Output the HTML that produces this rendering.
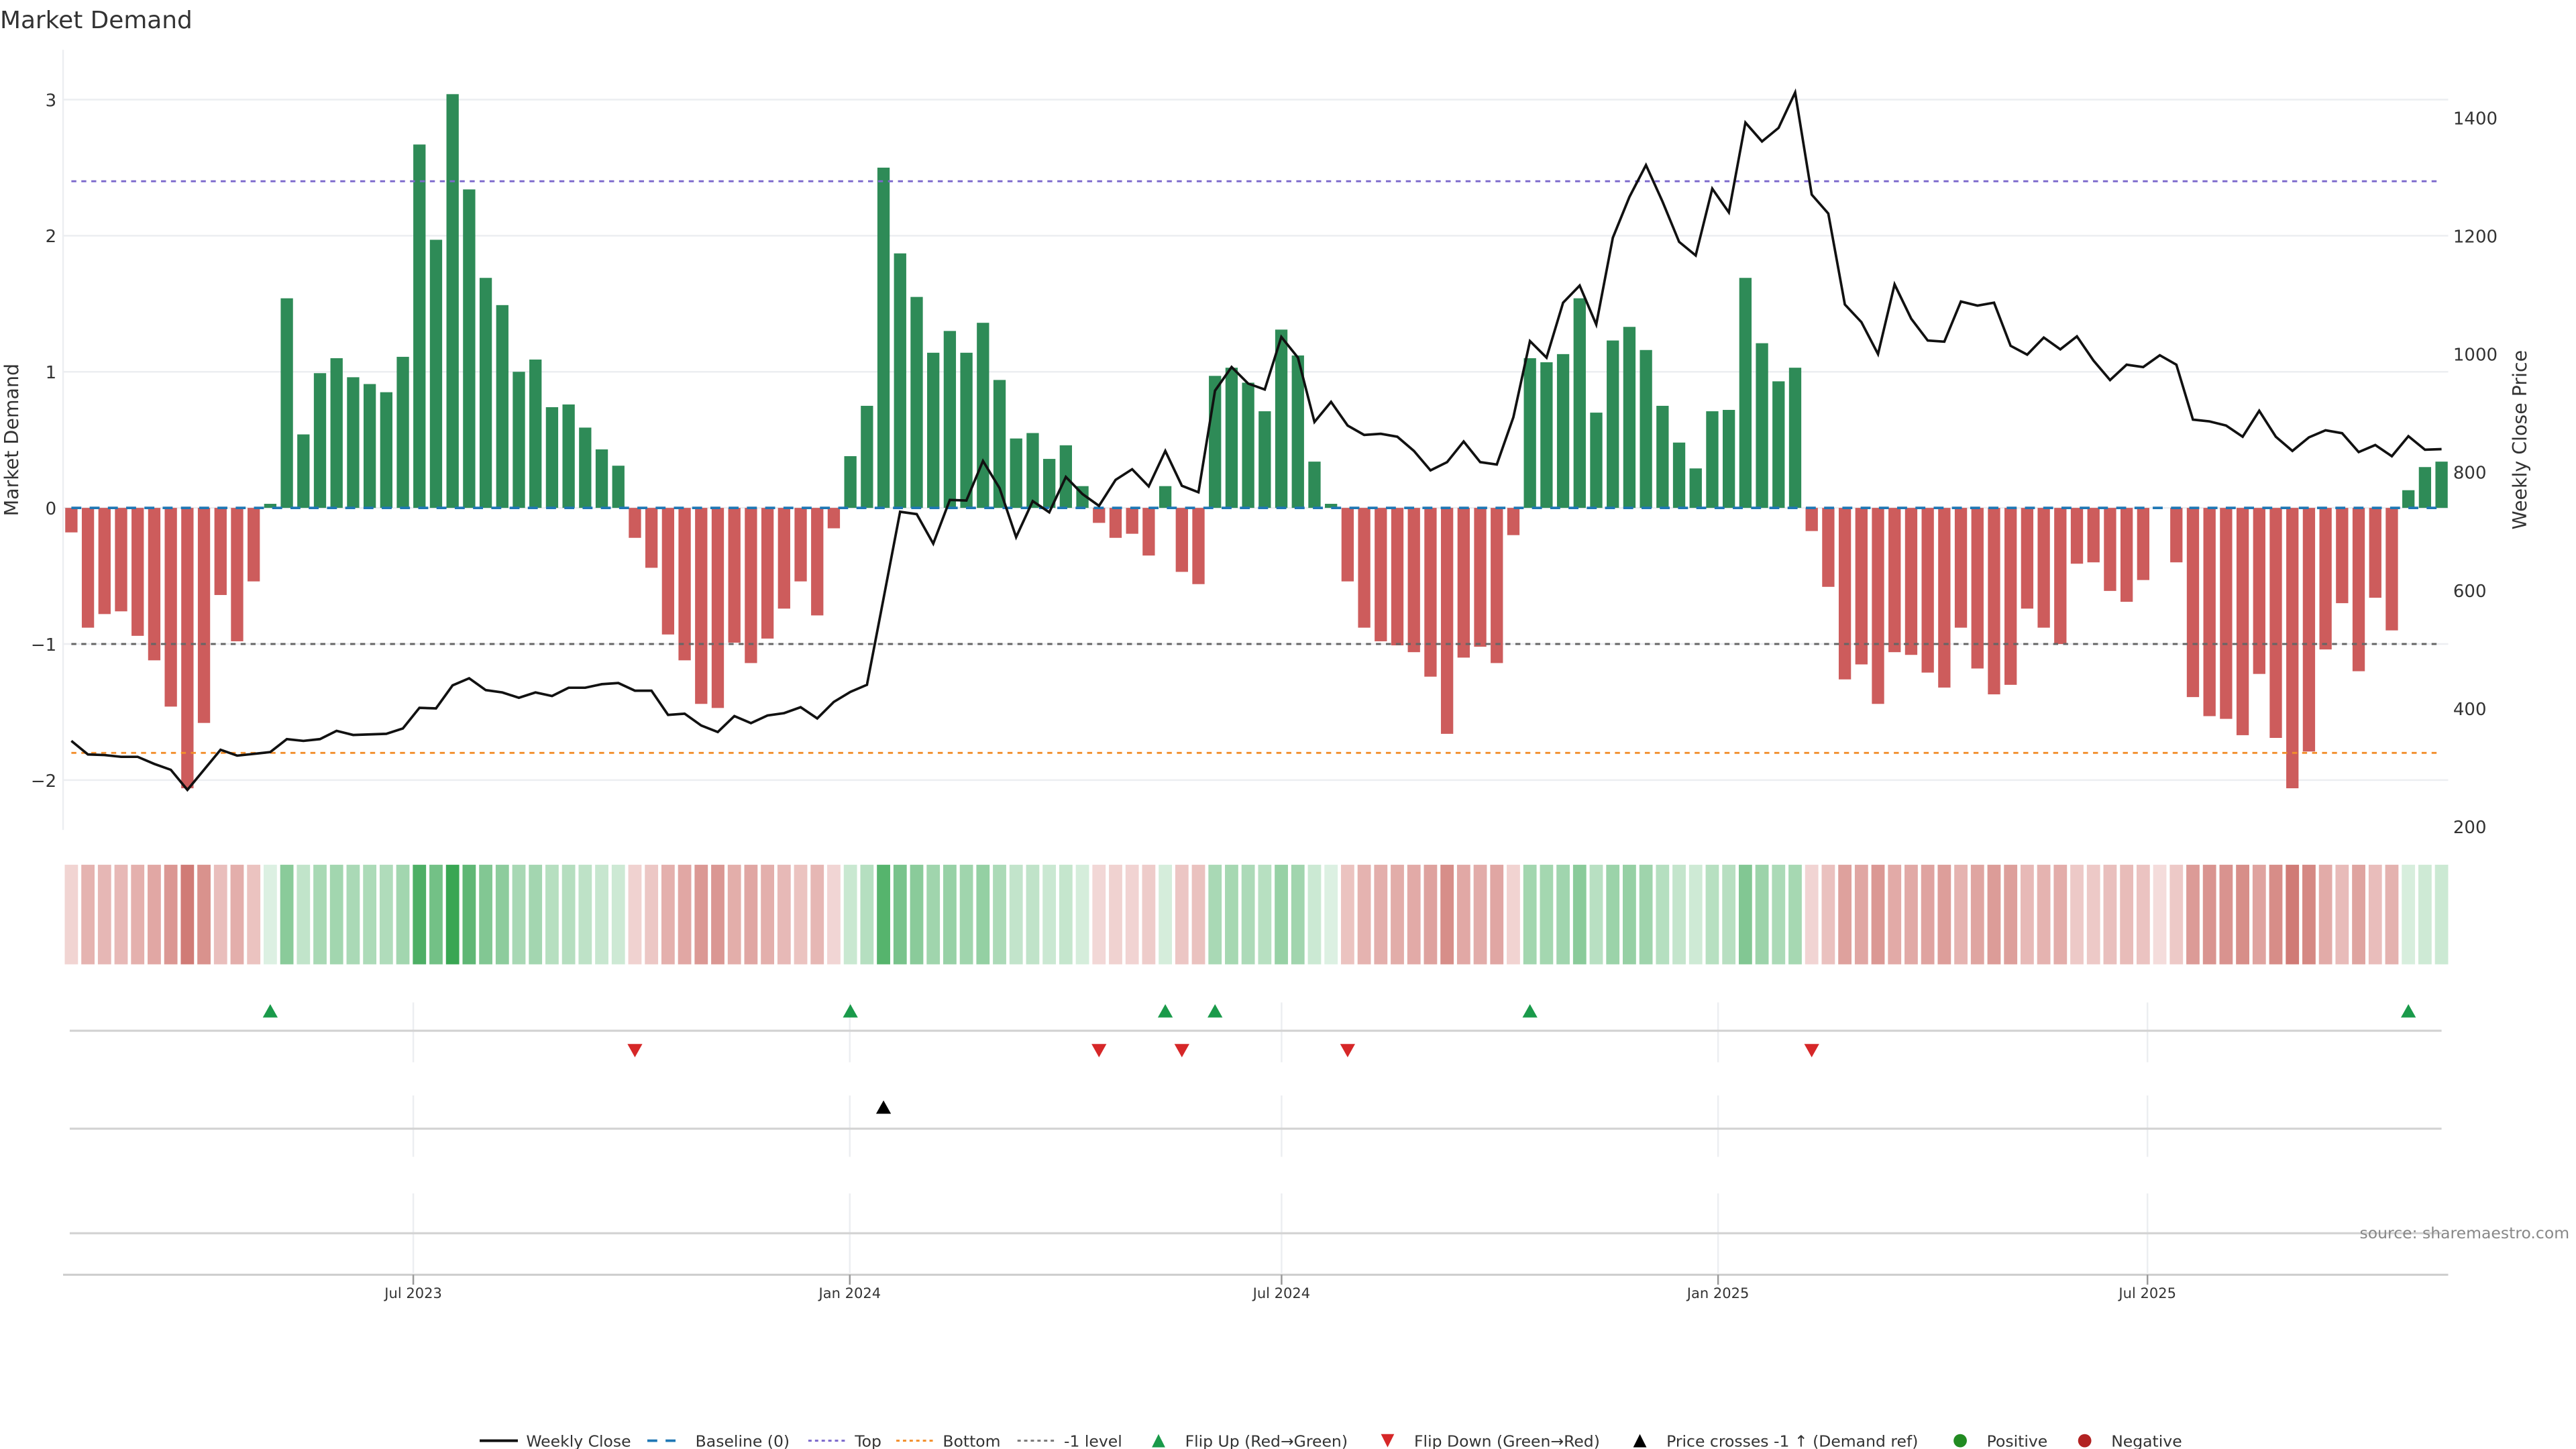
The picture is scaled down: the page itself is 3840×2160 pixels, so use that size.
<!DOCTYPE html>
<html><head><meta charset="utf-8"><title>Market Demand</title>
<style>
html,body{margin:0;padding:0;background:#fff;}
svg{display:block;font-family:"DejaVu Sans","Liberation Sans",sans-serif;}
</style></head>
<body>
<svg id="chart" width="3840" height="2160" viewBox="0 0 1552 873" xmlns="http://www.w3.org/2000/svg">
<rect x="0" y="0" width="1552" height="873" fill="#fff"/>
<text x="0" y="17" font-size="14.5" fill="#333">Market Demand</text>
<g id="grid"></g>
<g id="refs"></g>
<g id="bars"></g>
<g id="priceg"></g>
<g id="axes"></g>
<g id="heat"></g>
<g id="panels"></g>
<g id="legend"></g>
</svg>
<script>
const demand = [-0.18,-0.88,-0.78,-0.76,-0.94,-1.12,-1.46,-2.06,-1.58,-0.64,-0.98,-0.54,0.03,1.54,0.54,0.99,1.10,0.96,0.91,0.85,1.11,2.67,1.97,3.04,2.34,1.69,1.49,1.00,1.09,0.74,0.76,0.59,0.43,0.31,-0.22,-0.44,-0.93,-1.12,-1.44,-1.47,-0.99,-1.14,-0.96,-0.74,-0.54,-0.79,-0.15,0.38,0.75,2.50,1.87,1.55,1.14,1.30,1.14,1.36,0.94,0.51,0.55,0.36,0.46,0.16,-0.11,-0.22,-0.19,-0.35,0.16,-0.47,-0.56,0.97,1.03,0.92,0.71,1.31,1.12,0.34,0.03,-0.54,-0.88,-0.98,-1.01,-1.06,-1.24,-1.66,-1.10,-1.02,-1.14,-0.20,1.10,1.07,1.13,1.54,0.70,1.23,1.33,1.16,0.75,0.48,0.29,0.71,0.72,1.69,1.21,0.93,1.03,-0.17,-0.58,-1.26,-1.15,-1.44,-1.06,-1.08,-1.21,-1.32,-0.88,-1.18,-1.37,-1.30,-0.74,-0.88,-1.00,-0.41,-0.40,-0.61,-0.69,-0.53,0,-0.40,-1.39,-1.53,-1.55,-1.67,-1.22,-1.69,-2.06,-1.79,-1.04,-0.70,-1.20,-0.66,-0.90,0.13,0.30,0.34];
const price = [345,322,321,318,318,306,296,262,296,330,320,323,326,348,345,348,362,355,356,357,366,401,400,439,451,431,427,418,427,421,435,435,441,443,430,430,389,391,371,360,387,375,388,392,402,383,411,428,440,586,733,729,679,753,752,819,773,690,751,732,792,763,743,787,805,776,836,777,766,938,978,950,940,1029,994,885,919,879,863,865,860,836,803,817,852,817,813,893,1022,994,1087,1116,1050,1197,1266,1320,1258,1190,1167,1280,1240,1392,1360,1383,1443,1270,1238,1084,1054,1000,1118,1060,1023,1021,1089,1082,1087,1014,999,1028,1008,1030,989,956,982,978,998,982,889,886,879,860,904,860,836,859,871,866,834,846,827,861,838,839];
const crossIdx = [49];
const leftTicks = [-2,-1,0,1,2,3];
const leftTickLabels = ["−2","−1","0","1","2","3"];
const rightTicks = [200,400,600,800,1000,1200,1400];
const dateTicks = ["2023-07-01","2024-01-01","2024-07-01","2025-01-01","2025-07-01"];
const dateTickLabels = ["Jul 2023","Jan 2024","Jul 2024","Jan 2025","Jul 2025"];
const refLevels = [2.4,-1.8,-1];

const NS="http://www.w3.org/2000/svg";
function mk(tag,attrs,parent,txt){const e=document.createElementNS(NS,tag);for(const k in attrs)e.setAttribute(k,attrs[k]);if(txt!==undefined)e.textContent=txt;parent.appendChild(e);return e;}
const X0=43,X1=1471;
function xb(i){return X0+i*(X1-X0)/(demand.length-1);}
function yd(v){return 306-v*82;}
function yp(p){return 71+(1400-p)*0.3558;}
function xdate(s){const d=(Date.parse(s)-Date.parse("2023-07-01"))/86400000;return 249+d*1.4293;}

const grid=document.getElementById('grid');
leftTicks.forEach((t,k)=>{
  const l=mk('line',{x1:38,x2:1475,y1:yd(t),y2:yd(t),stroke:'#eceef1','stroke-width':1},grid);
  
  
  const tx=mk('text',{x:34,y:yd(t)+4,'font-size':10.5,fill:'#333','text-anchor':'end'},grid,leftTickLabels[k]);
  
  
});
rightTicks.forEach(t=>{
  const tx=mk('text',{x:1478,y:yp(t)+4,'font-size':10.5,fill:'#333'},grid,String(t));
  
  
});
const ax=mk('line',{x1:38,x2:38,y1:30,y2:500,stroke:'#eceef1','stroke-width':1},grid);


const yt=mk('text',{x:0,y:0,'font-size':11.5,fill:'#333','text-anchor':'middle',transform:'translate(11,265) rotate(-90)'},grid,'Market Demand');


const yt2=mk('text',{x:0,y:0,'font-size':11.5,fill:'#333','text-anchor':'middle',transform:'translate(1522,265) rotate(-90)'},grid,'Weekly Close Price');



const bars=document.getElementById('bars');
demand.forEach((v,i)=>{
  const y0=yd(0),y1=yd(v);
  const r=mk('rect',{x:xb(i)-3.7,width:7.4,y:Math.min(y0,y1),height:Math.max(Math.abs(y1-y0),0.01),fill:v>0?'#2e8b57':'#cd5c5c'},bars);
  
  
});
const b=mk('line',{x1:X0,x2:X1,y1:yd(0),y2:yd(0),stroke:'#1f77b4','stroke-width':1.5,'stroke-dasharray':'6 5'},bars);


const topL=mk('line',{x1:X0,x2:X1,y1:yd(refLevels[0]),y2:yd(refLevels[0]),stroke:'#7b68cc','stroke-width':1.2,'stroke-dasharray':'3 3'},bars);


const botL=mk('line',{x1:X0,x2:X1,y1:yd(refLevels[1]),y2:yd(refLevels[1]),stroke:'#f28e2b','stroke-width':1.2,'stroke-dasharray':'3 3'},bars);


const m1=mk('line',{x1:X0,x2:X1,y1:yd(refLevels[2]),y2:yd(refLevels[2]),stroke:'#666','stroke-width':1.2,'stroke-dasharray':'3 3'},bars);



const pg=document.getElementById('priceg');
const pl=mk('polyline',{points:price.map((p,i)=>xb(i).toFixed(2)+','+yp(p).toFixed(2)).join(' '),fill:'none',stroke:'#111','stroke-width':1.5,'stroke-linejoin':'miter'},pg);



function mix(a,b,t){return 'rgb('+a.map((c,k)=>Math.round(c+(b[k]-c)*t)).join(',')+')';}
const heat=document.getElementById('heat');
demand.forEach((v,i)=>{
  let col;
  if(v>0){col=mix([222,241,227],[56,166,83],Math.min(v/3.05,1));}
  else{col=mix([244,220,219],[204,112,106],Math.min(Math.abs(v)/2.3,1));}
  const r=mk('rect',{x:xb(i)-4,width:8,y:521,height:60,fill:col},heat);
  
  
});

const pn=document.getElementById('panels');
dateTicks.forEach(d=>{
  const x=xdate(d);
  [[604,640],[660,697],[719,767]].forEach(s=>{
    const l=mk('line',{x1:x,x2:x,y1:s[0],y2:s[1],stroke:'#eceef1','stroke-width':1},pn);
    
    
  });
});
[621,680,743].forEach(y=>{
  const l=mk('line',{x1:42,x2:1471,y1:y,y2:y,stroke:'#d4d4d4','stroke-width':1.3},pn);
  
  
});
for(let i=1;i<demand.length;i++){
  const up=demand[i]>0&&demand[i-1]<=0, dn=demand[i]<=0&&demand[i-1]>0;
  const x=xb(i);
  if(up){
    const t=mk('path',{d:`M${x-4.5},${613}L${x+4.5},${613}L${x},${605}Z`,fill:'#1a9a4a'},pn);
    
    
  }
  if(dn){
    const t=mk('path',{d:`M${x-4.5},${629}L${x+4.5},${629}L${x},${637}Z`,fill:'#d62728'},pn);
    
    
  }
}
crossIdx.forEach(i=>{
  const x=xb(i);
  const t=mk('path',{d:`M${x-4.5},${671}L${x+4.5},${671}L${x},${663}Z`,fill:'#000'},pn);
  
  
});
const xa=mk('line',{x1:38,x2:1475,y1:768,y2:768,stroke:'#ccc','stroke-width':1.2},pn);


dateTicks.forEach((d,k)=>{
  const x=xdate(d);
  const tk=mk('line',{x1:x,x2:x,y1:768,y2:774,stroke:'#999','stroke-width':1},pn);
  
  
  const tx=mk('text',{x:x,y:782,'font-size':8.5,fill:'#333','text-anchor':'middle'},pn,dateTickLabels[k]);
  
  
});
const src=mk('text',{x:1548,y:746,'font-size':9.5,fill:'#888','text-anchor':'end'},pn,'source: sharemaestro.com');



const lg=document.getElementById('legend');
const LY=868;
function ltext(x,s){const t=mk('text',{x:x,y:LY+3.5,'font-size':9.5,fill:'#333'},lg,s);}
let e;
e=mk('line',{x1:289,x2:312,y1:LY,y2:LY,stroke:'#111','stroke-width':1.6},lg);ltext(317,'Weekly Close');
e=mk('line',{x1:390,x2:412,y1:LY,y2:LY,stroke:'#1f77b4','stroke-width':1.5,'stroke-dasharray':'6 5'},lg);ltext(419,'Baseline (0)');
e=mk('line',{x1:487,x2:509,y1:LY,y2:LY,stroke:'#7b68cc','stroke-width':1.2,'stroke-dasharray':'2 2'},lg);ltext(515,'Top');
e=mk('line',{x1:540,x2:562,y1:LY,y2:LY,stroke:'#f28e2b','stroke-width':1.2,'stroke-dasharray':'2 2'},lg);ltext(568,'Bottom');
e=mk('line',{x1:613,x2:635,y1:LY,y2:LY,stroke:'#777','stroke-width':1.2,'stroke-dasharray':'2 2'},lg);ltext(641,'-1 level');
e=mk('path',{d:`M694,${LY+4}L702,${LY+4}L698,${LY-4}Z`,fill:'#1a9a4a'},lg);ltext(714,'Flip Up (Red→Green)');
e=mk('path',{d:`M832,${LY-4}L840,${LY-4}L836,${LY+4}Z`,fill:'#d62728'},lg);ltext(852,'Flip Down (Green→Red)');
e=mk('path',{d:`M984,${LY+4}L992,${LY+4}L988,${LY-4}Z`,fill:'#000'},lg);ltext(1004,'Price crosses -1 ↑ (Demand ref)');
e=mk('circle',{cx:1181,cy:LY,r:4,fill:'#228b22'},lg);ltext(1197,'Positive');
e=mk('circle',{cx:1256,cy:LY,r:4,fill:'#b22222'},lg);ltext(1272,'Negative');
</script>
</body></html>
